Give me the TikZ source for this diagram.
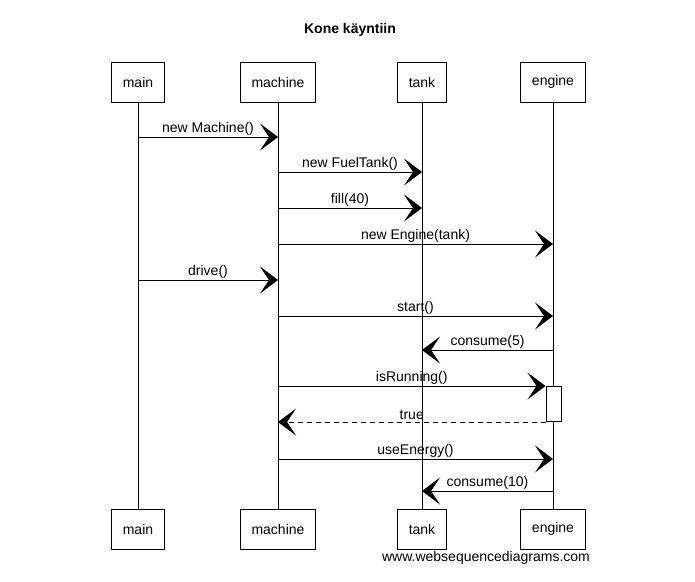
\documentclass[tikz,border=0pt]{standalone}
\usepackage{fontspec}
\setmainfont{Liberation Sans}
\usetikzlibrary{positioning,calc}
\usetikzlibrary{arrows.meta}

\begin{document}
\begin{tikzpicture}[x=1pt,y=-1pt,>={Stealth[length=18pt,width=27pt,inset=9pt]},
  font=\fontsize{14}{16}\selectfont,
  actor/.style={draw,line width=1pt,minimum height=40pt,inner xsep=11pt},
  msg/.style={line width=1pt,->},
  reply/.style={line width=1pt,dash pattern=on 5pt off 4pt,->,>={Stealth[length=18pt,width=27pt,inset=9pt,sep=0pt]}},
  lbl/.style={midway,above,inner sep=1.5pt}]

\useasboundingbox (0,0) rectangle (695,581);

% Title
\node[font=\fontsize{14}{16}\selectfont\bfseries] (title) at (350,30) {Kone käyntiin};

% Participants (top and bottom)
\node[actor] (mainT)    at (138,82)  {main};
\node[actor] (machineT) at (278,82)  {machine};
\node[actor] (tankT)    at (422,82)  {tank};
\node[actor] (engineT)  at (553,82)  {engine};

\node[actor] (mainB)    at (138,529) {main};
\node[actor] (machineB) at (278,529) {machine};
\node[actor] (tankB)    at (422,529) {tank};
\node[actor] (engineB)  at (553,529) {engine};

% Lifelines
\foreach \p in {main,machine,tank,engine}
  \draw[line width=0.8pt] (\p T.south) -- (\p B.north);

% Activation of engine
\node[draw,fill=white,line width=1pt,minimum width=15pt,minimum height=35pt,inner sep=0pt]
  (act) at (553.5,403.5) {};

% Message levels
\coordinate (y1) at (0,137);
\coordinate (y2) at (0,172);
\coordinate (y3) at (0,208);
\coordinate (y4) at (0,244);
\coordinate (y5) at (0,280);
\coordinate (y6) at (0,316);
\coordinate (y7) at (0,350);
\coordinate (y8) at (0,386);
\coordinate (y9) at (0,422);
\coordinate (y10) at (0,459);
\coordinate (y11) at (0,491);

% Messages
\draw[msg] (mainT |- y1) -- (machineT |- y1) node[lbl] {new Machine()};
\draw[msg] (machineT |- y2) -- (tankT |- y2) node[lbl] {new FuelTank()};
\draw[msg] (machineT |- y3) -- (tankT |- y3) node[lbl] {fill(40)};
\draw[msg] (machineT |- y4) -- (engineT |- y4) node[lbl] {new Engine(tank)};
\draw[msg] (mainT |- y5) -- (machineT |- y5) node[lbl] {drive()};
\draw[msg] (machineT |- y6) -- (engineT |- y6) node[lbl] {start()};
\draw[msg] (engineT |- y7) -- (tankT |- y7) node[lbl] {consume(5)};
\draw[msg] (machineT |- y8) -- (act.west |- y8) node[lbl] {isRunning()};
\draw[reply] (act.west |- y9) -- (machineT |- y9) node[lbl] {true};
\draw[msg] (machineT |- y10) -- (engineT |- y10) node[lbl] {useEnergy()};
\draw[msg] (engineT |- y11) -- (tankT |- y11) node[lbl] {consume(10)};

% Footer
\node (footer) at (486,558) {www.websequencediagrams.com};

\end{tikzpicture}
\end{document}
